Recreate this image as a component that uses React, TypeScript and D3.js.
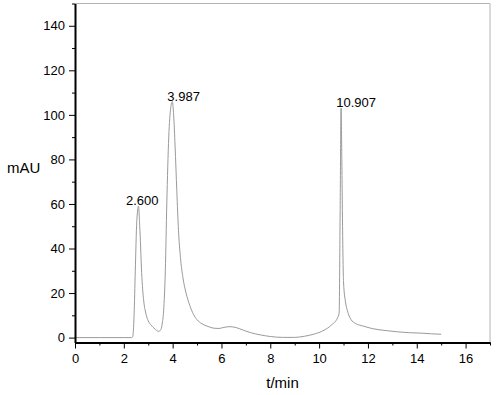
import React, { useEffect, useRef } from "react"
import * as d3 from "d3"

// retention time (min) and absorbance (mAU)
const times = [
  0, 1.0, 2.0, 2.3, 2.36, 2.42, 2.47, 2.53, 2.6, 2.66, 2.74, 2.82, 2.9, 3.0, 3.1, 3.2, 3.3, 3.42,
  3.5, 3.57, 3.63, 3.7, 3.76, 3.84, 3.92, 3.987, 4.04, 4.1, 4.17, 4.24, 4.32, 4.42, 4.55, 4.7,
  4.85, 5.0, 5.2, 5.45, 5.7, 5.9, 6.1, 6.35, 6.6, 6.9, 7.2, 7.6, 8.0, 8.5, 9.0, 9.4, 9.8, 10.2,
  10.5, 10.75, 10.82, 10.86, 10.9, 10.93, 10.96, 11.0, 11.08, 11.16, 11.3, 11.5, 11.8, 12.2, 12.7,
  13.2, 13.7, 14.2, 14.6, 15.0,
]
const mau = [
  0, 0, 0, 0, 0.3, 10, 30, 52, 59, 48, 27, 16, 11, 7.5, 5.8, 4.6, 3.6, 2.8,
  3.3, 6, 12, 30, 60, 90, 103, 106, 100, 86, 66, 48, 36, 27, 20, 14.5,
  10.5, 8, 6.2, 5, 4.2, 4.1, 4.6, 4.9, 4.5, 3.3, 2.2, 1.2, 0.5, 0.1, 0.1, 0.6, 1.6, 3.3,
  5.6, 8.8, 11, 55, 103, 80, 50, 25, 16, 12, 8.2, 6.3, 5.2, 4.0, 3.2,
  2.6, 2.2, 2.0, 1.7, 1.5,
]

const peakTimes = [2.6, 3.987, 10.907]
const peakHeights = [59, 106, 103]
const peakLabels = ["2.600", "3.987", "10.907"]

const xMajor = [0, 2, 4, 6, 8, 10, 12, 14, 16]
const xMinor = [1, 3, 5, 7, 9, 11, 13, 15, 17]
const yMajor = [0, 20, 40, 60, 80, 100, 120, 140]
const yMinor = [10, 30, 50, 70, 90, 110, 130, 150]

const labelShift = [-12.5, -5, -5]

export default function App() {
  const ref = useRef<SVGSVGElement>(null)

  useEffect(() => {
    const svg = d3.select(ref.current)
    svg.selectAll("*").remove()

    const left = 75
    const right = 490
    const top = 3.5
    const bottom = 342.5

    const x = d3.scaleLinear().domain([0, 17]).range([left, right])
    const y = d3.scaleLinear().domain([-2.2, 150]).range([bottom, top])

    const font = "'Liberation Sans', Arial, sans-serif"

    // grey frame on top and right
    svg.append("path")
      .attr("d", `M${left},${top}H${right}V${bottom}`)
      .attr("fill", "none")
      .attr("stroke", "#b4b4b4")
      .attr("stroke-width", 1)

    // chromatogram trace
    const line = d3.line<number>()
      .x((d, i) => x(times[i]))
      .y(d => y(d))
      .curve(d3.curveMonotoneX)

    svg.append("path")
      .datum(mau)
      .attr("fill", "none")
      .attr("stroke", "#9a9a9a")
      .attr("stroke-width", 1)
      .attr("d", line)

    // x axis
    const xAxis = svg.append("g")
      .attr("transform", `translate(0, ${bottom})`)
      .call(d3.axisBottom(x).tickValues(xMajor).tickSize(6).tickSizeOuter(0).tickPadding(5.5).tickFormat(d3.format("d")))
    svg.append("g")
      .attr("transform", `translate(0, ${bottom})`)
      .call(d3.axisBottom(x).tickValues(xMinor).tickSize(3).tickSizeOuter(0).tickFormat(() => ""))
      .call(g => g.select(".domain").remove())

    // y axis
    const yAxis = svg.append("g")
      .attr("transform", `translate(${left}, 0)`)
      .call(d3.axisLeft(y).tickValues(yMajor).tickSize(6).tickSizeOuter(0).tickPadding(4).tickFormat(d3.format("d")))
    svg.append("g")
      .attr("transform", `translate(${left}, 0)`)
      .call(d3.axisLeft(y).tickValues(yMinor).tickSize(3).tickSizeOuter(0).tickFormat(() => ""))
      .call(g => g.select(".domain").remove())

    for (const g of [xAxis, yAxis]) {
      g.select(".domain").attr("stroke", "#000").attr("stroke-width", 2)
      g.selectAll("text").attr("font-family", font).attr("font-size", 13).attr("fill", "#000")
    }

    // axis titles
    svg.append("text")
      .attr("x", 7)
      .attr("y", 173)
      .attr("font-family", font)
      .attr("font-size", 15)
      .text("mAU")

    svg.append("text")
      .attr("x", (left + right) / 2)
      .attr("y", 387.5)
      .attr("text-anchor", "middle")
      .attr("font-family", font)
      .attr("font-size", 15)
      .text("t/min")

    // peak labels
    svg.selectAll(".peak")
      .data(peakLabels)
      .enter()
      .append("text")
      .attr("class", "peak")
      .attr("x", (d, i) => x(peakTimes[i]) + labelShift[i])
      .attr("y", (d, i) => y(peakHeights[i]) - 1)
      .attr("font-family", font)
      .attr("font-size", 13)
      .text(d => d)
  }, [])

  return (
    <svg
      ref={ref}
      width={500}
      height={395}
      style={{ position: "absolute", left: 0, top: 0, background: "#fff" }}
    />
  )
}
